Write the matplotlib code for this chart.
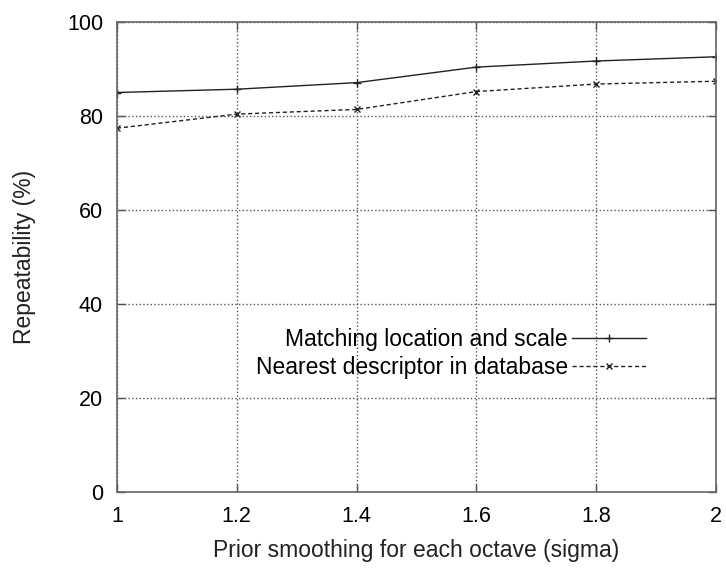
import matplotlib.pyplot as plt

# values
sigma = [1.0, 1.2, 1.4, 1.6, 1.8, 2.0]
matching = [85.0, 85.7, 87.1, 90.4, 91.7, 92.6]
nearest = [77.4, 80.4, 81.4, 85.2, 86.8, 87.4]
xticks = [1, 1.2, 1.4, 1.6, 1.8, 2]
xtick_labels = ['1', '1.2', '1.4', '1.6', '1.8', '2']
yticks = [0, 20, 40, 60, 80, 100]

plt.rcParams['font.family'] = ['Liberation Sans', 'DejaVu Sans']

fig = plt.figure(figsize=(7.26, 5.70), dpi=100)
ax = fig.add_axes([117 / 726, 78 / 570, 599 / 726, 470 / 570])

ax.plot(sigma, matching, color='#222222', linewidth=1.0, linestyle='-',
        marker='+', markersize=6, markeredgewidth=1.0,
        label='Matching location and scale')
ax.plot(sigma, nearest, color='#222222', linewidth=1.0, linestyle=(0, (3, 2)),
        marker='x', markersize=5, markeredgewidth=1.0,
        label='Nearest descriptor in database')

ax.set_xlim(1, 2)
ax.set_ylim(0, 100)
ax.set_xticks(xticks)
ax.set_xticklabels(xtick_labels)
ax.set_yticks(yticks)

ax.grid(True, color='#555555', linestyle=':', linewidth=1.0)
ax.tick_params(direction='in', length=6, width=1, color='#555555',
               top=True, right=True, labelsize=15.5, pad=10)
for s in ax.spines.values():
    s.set_color('#666666')
    s.set_linewidth(1.2)

ax.set_xlabel('Prior smoothing for each octave (sigma)', fontsize=16.5, labelpad=9, color='#222222')
ax.set_ylabel('Repeatability (%)', fontsize=16.5, labelpad=22, color='#222222')

leg = ax.legend(loc='center right', bbox_to_anchor=(0.898, 0.295), markerfirst=False,
                frameon=False, fontsize=16.5, handlelength=3.2, handletextpad=0.2,
                labelspacing=0.2, numpoints=1, borderaxespad=0)

fig.savefig('out.png', dpi=100)
